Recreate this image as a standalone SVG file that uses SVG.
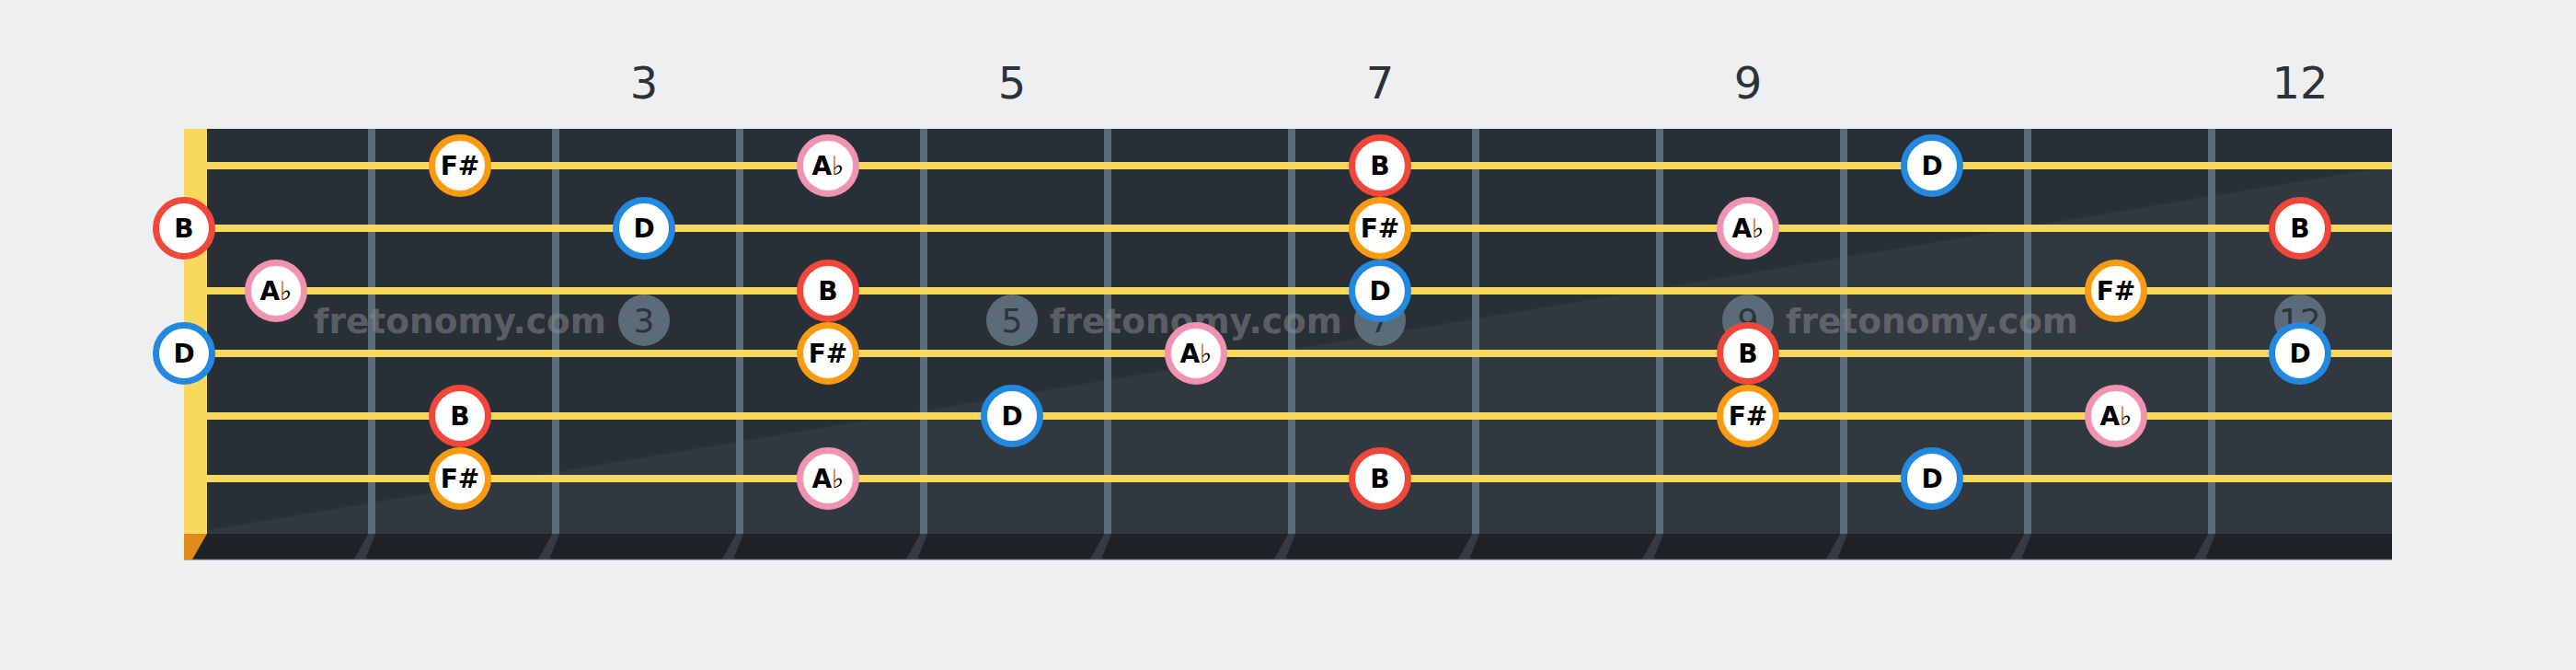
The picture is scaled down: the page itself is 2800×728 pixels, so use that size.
<svg xmlns="http://www.w3.org/2000/svg" width="2800" height="728" viewBox="0 0 2800 728">
<style>
.fn{font-family:"DejaVu Sans","Liberation Sans",sans-serif;font-size:48px;fill:#2b323a;text-anchor:middle}
.wm{font-family:"DejaVu Sans","Liberation Sans",sans-serif;font-weight:bold;font-size:37.5px;fill:#8e8c92;opacity:0.5;text-anchor:middle}
.wn{font-family:"DejaVu Sans","Liberation Sans",sans-serif;font-size:36px;fill:#2c333b;text-anchor:middle}
.wc{fill:#5b6b78}
.fret{fill:#5b6b78}
.slant{fill:#5b6b78;opacity:0.35}
.str{fill:#f8d95d}
.n{fill:#ffffff;stroke-width:7}
.nt{font-family:"DejaVu Sans","Liberation Sans",sans-serif;font-weight:bold;font-size:28px;fill:#000000;text-anchor:middle}
.B{stroke:#f0473a}
.F{stroke:#f99a10}
.D{stroke:#2389e0}
.A{stroke:#f093b0}
</style>
<rect x="0" y="0" width="2800" height="728" fill="#eeeff1"/>
<g id="fret-numbers">
<text class="fn" x="700" y="107">3</text>
<text class="fn" x="1100" y="107">5</text>
<text class="fn" x="1500" y="107">7</text>
<text class="fn" x="1900" y="107">9</text>
<text class="fn" x="2500" y="107">12</text>
</g>
<g id="board">
<rect x="200" y="140" width="2400" height="440" fill="#282f37"/>
<polygon points="200,580 2600,180 2600,580" fill="#323840"/>
<rect x="200" y="580" width="2400" height="28" fill="#1f2327"/>
<line x1="200" y1="608" x2="2600" y2="608" stroke="#6b7480" stroke-width="1"/>
</g>
<g id="frets">
<rect class="fret" x="400" y="140" width="8" height="440"/>
<rect class="fret" x="600" y="140" width="8" height="440"/>
<rect class="fret" x="800" y="140" width="8" height="440"/>
<rect class="fret" x="1000" y="140" width="8" height="440"/>
<rect class="fret" x="1200" y="140" width="8" height="440"/>
<rect class="fret" x="1400" y="140" width="8" height="440"/>
<rect class="fret" x="1600" y="140" width="8" height="440"/>
<rect class="fret" x="1800" y="140" width="8" height="440"/>
<rect class="fret" x="2000" y="140" width="8" height="440"/>
<rect class="fret" x="2200" y="140" width="8" height="440"/>
<rect class="fret" x="2400" y="140" width="8" height="440"/>
<polygon class="slant" points="400,580 408,580 397,608 385,608"/>
<polygon class="slant" points="600,580 608,580 597,608 585,608"/>
<polygon class="slant" points="800,580 808,580 797,608 785,608"/>
<polygon class="slant" points="1000,580 1008,580 997,608 985,608"/>
<polygon class="slant" points="1200,580 1208,580 1197,608 1185,608"/>
<polygon class="slant" points="1400,580 1408,580 1397,608 1385,608"/>
<polygon class="slant" points="1600,580 1608,580 1597,608 1585,608"/>
<polygon class="slant" points="1800,580 1808,580 1797,608 1785,608"/>
<polygon class="slant" points="2000,580 2008,580 1997,608 1985,608"/>
<polygon class="slant" points="2200,580 2208,580 2197,608 2185,608"/>
<polygon class="slant" points="2400,580 2408,580 2397,608 2385,608"/>
</g>
<g id="nut">
<rect x="200" y="140" width="25" height="440" fill="#f8d95d"/>
<polygon points="200,580 225,580 209,608 200,608" fill="#e08a1e"/>
</g>
<g id="watermark">
<text class="wm" x="500" y="362">fretonomy.com</text>
<text class="wm" x="1300" y="362">fretonomy.com</text>
<text class="wm" x="2100" y="362">fretonomy.com</text>
<circle class="wc" cx="700" cy="348" r="28"/><text class="wn" x="700" y="361">3</text>
<circle class="wc" cx="1100" cy="348" r="28"/><text class="wn" x="1100" y="361">5</text>
<circle class="wc" cx="1500" cy="348" r="28"/><text class="wn" x="1500" y="361">7</text>
<circle class="wc" cx="1900" cy="348" r="28"/><text class="wn" x="1900" y="361">9</text>
<circle class="wc" cx="2500" cy="348" r="28"/><text class="wn" x="2500" y="361">12</text>
</g>
<g id="strings">
<rect class="str" x="225" y="176" width="2375" height="8"/>
<rect class="str" x="225" y="244" width="2375" height="8"/>
<rect class="str" x="225" y="312" width="2375" height="8"/>
<rect class="str" x="225" y="380" width="2375" height="8"/>
<rect class="str" x="225" y="448" width="2375" height="8"/>
<rect class="str" x="225" y="516" width="2375" height="8"/>
</g>
<g id="notes">
<g id="s1f2"><circle class="n F" cx="500" cy="180" r="30.5"/><text class="nt" x="500" y="190">F#</text></g>
<g id="s1f4"><circle class="n A" cx="900" cy="180" r="30.5"/><text class="nt" x="900" y="190">A♭</text></g>
<g id="s1f7"><circle class="n B" cx="1500" cy="180" r="30.5"/><text class="nt" x="1500" y="190">B</text></g>
<g id="s1f10"><circle class="n D" cx="2100" cy="180" r="30.5"/><text class="nt" x="2100" y="190">D</text></g>
<g id="s2f0"><circle class="n B" cx="200" cy="248" r="30.5"/><text class="nt" x="200" y="258">B</text></g>
<g id="s2f3"><circle class="n D" cx="700" cy="248" r="30.5"/><text class="nt" x="700" y="258">D</text></g>
<g id="s2f7"><circle class="n F" cx="1500" cy="248" r="30.5"/><text class="nt" x="1500" y="258">F#</text></g>
<g id="s2f9"><circle class="n A" cx="1900" cy="248" r="30.5"/><text class="nt" x="1900" y="258">A♭</text></g>
<g id="s2f12"><circle class="n B" cx="2500" cy="248" r="30.5"/><text class="nt" x="2500" y="258">B</text></g>
<g id="s3f1"><circle class="n A" cx="300" cy="316" r="30.5"/><text class="nt" x="300" y="326">A♭</text></g>
<g id="s3f4"><circle class="n B" cx="900" cy="316" r="30.5"/><text class="nt" x="900" y="326">B</text></g>
<g id="s3f7"><circle class="n D" cx="1500" cy="316" r="30.5"/><text class="nt" x="1500" y="326">D</text></g>
<g id="s3f11"><circle class="n F" cx="2300" cy="316" r="30.5"/><text class="nt" x="2300" y="326">F#</text></g>
<g id="s4f0"><circle class="n D" cx="200" cy="384" r="30.5"/><text class="nt" x="200" y="394">D</text></g>
<g id="s4f4"><circle class="n F" cx="900" cy="384" r="30.5"/><text class="nt" x="900" y="394">F#</text></g>
<g id="s4f6"><circle class="n A" cx="1300" cy="384" r="30.5"/><text class="nt" x="1300" y="394">A♭</text></g>
<g id="s4f9"><circle class="n B" cx="1900" cy="384" r="30.5"/><text class="nt" x="1900" y="394">B</text></g>
<g id="s4f12"><circle class="n D" cx="2500" cy="384" r="30.5"/><text class="nt" x="2500" y="394">D</text></g>
<g id="s5f2"><circle class="n B" cx="500" cy="452" r="30.5"/><text class="nt" x="500" y="462">B</text></g>
<g id="s5f5"><circle class="n D" cx="1100" cy="452" r="30.5"/><text class="nt" x="1100" y="462">D</text></g>
<g id="s5f9"><circle class="n F" cx="1900" cy="452" r="30.5"/><text class="nt" x="1900" y="462">F#</text></g>
<g id="s5f11"><circle class="n A" cx="2300" cy="452" r="30.5"/><text class="nt" x="2300" y="462">A♭</text></g>
<g id="s6f2"><circle class="n F" cx="500" cy="520" r="30.5"/><text class="nt" x="500" y="530">F#</text></g>
<g id="s6f4"><circle class="n A" cx="900" cy="520" r="30.5"/><text class="nt" x="900" y="530">A♭</text></g>
<g id="s6f7"><circle class="n B" cx="1500" cy="520" r="30.5"/><text class="nt" x="1500" y="530">B</text></g>
<g id="s6f10"><circle class="n D" cx="2100" cy="520" r="30.5"/><text class="nt" x="2100" y="530">D</text></g>
</g>
</svg>
